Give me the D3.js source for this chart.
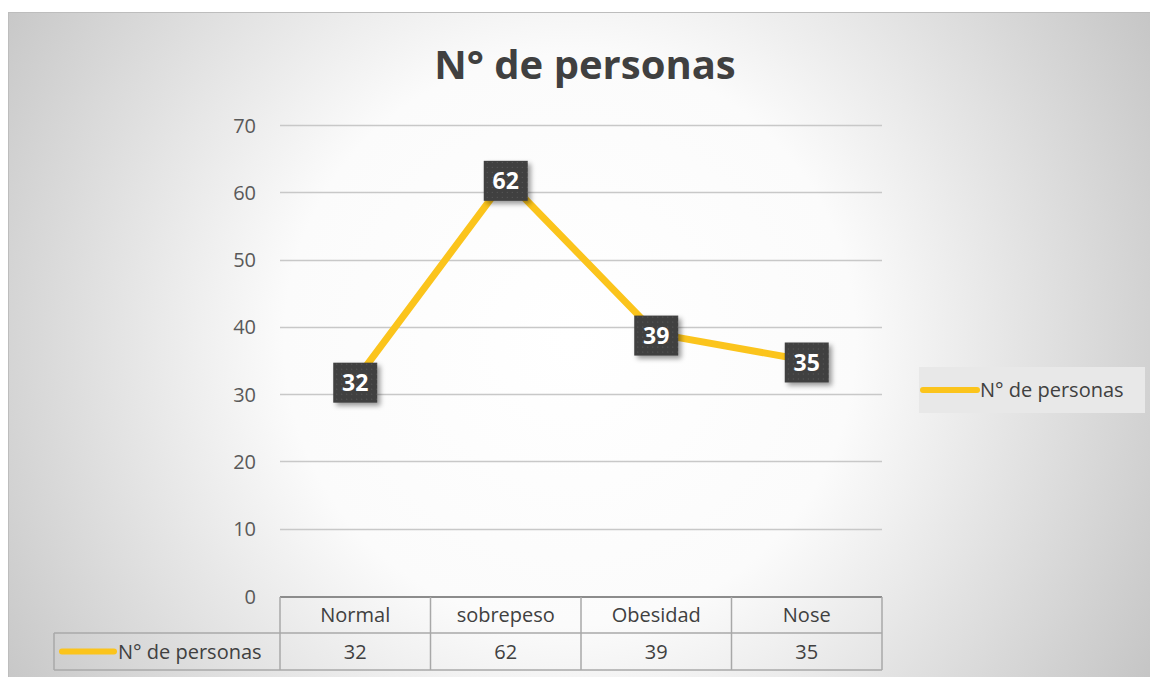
<!DOCTYPE html>
<html>
<head>
<meta charset="utf-8">
<script src="https://cdn.jsdelivr.net/npm/d3@7"></script>
<style>
  html, body { margin: 0; padding: 0; background: #fff; }
  svg { display: block; font-family: "Open Sans", sans-serif; }
</style>
</head>
<body>
<svg></svg>
<script>
"use strict";

const categories = ["Normal", "sobrepeso", "Obesidad", "Nose"];
const values = [32, 62, 39, 35];
const yTicks = [0, 10, 20, 30, 40, 50, 60, 70];
const seriesName = "N° de personas";

const width = 1150;
const height = 677;
const plot = { left: 280, right: 882, top: 125, bottom: 596 };

const svg = d3.select("svg").attr("width", width).attr("height", height);
const defs = svg.append("defs");

const grad = defs.append("radialGradient")
  .attr("id", "bg")
  .attr("gradientUnits", "userSpaceOnUse")
  .attr("cx", 570).attr("cy", 340).attr("r", 680);
grad.append("stop").attr("offset", 0).attr("stop-color", "#ffffff");
grad.append("stop").attr("offset", 0.42).attr("stop-color", "#fbfbfb");
grad.append("stop").attr("offset", 1).attr("stop-color", "#c4c4c4");

const pat = defs.append("pattern")
  .attr("id", "dots")
  .attr("patternUnits", "userSpaceOnUse")
  .attr("width", 5).attr("height", 5);
pat.append("rect").attr("width", 5).attr("height", 5).attr("fill", "#3f3f3f");
pat.append("rect").attr("x", 1).attr("y", 1).attr("width", 1).attr("height", 1).attr("fill", "#5e5e5e");

const shadow = defs.append("filter").attr("id", "shadow")
  .attr("x", "-30%").attr("y", "-30%").attr("width", "170%").attr("height", "170%");
shadow.append("feDropShadow")
  .attr("dx", 3).attr("dy", 3).attr("stdDeviation", 2.5)
  .attr("flood-color", "#000").attr("flood-opacity", 0.4);

// chart background
svg.append("rect")
  .attr("x", 8.5).attr("y", 12.5)
  .attr("width", width - 8).attr("height", height - 12)
  .attr("fill", "url(#bg)")
  .attr("stroke", "#bdbdbd");

// title
svg.append("text")
  .attr("x", 585).attr("y", 79)
  .attr("text-anchor", "middle")
  .attr("font-size", 40).attr("font-weight", "bold")
  .attr("fill", "#404040")
  .text(seriesName);

const xScale = d3.scaleBand().domain(categories).range([plot.left, plot.right]);
const yScale = d3.scaleLinear().domain([0, 70]).range([plot.bottom, plot.top]);

// y labels via axis
const yAxis = d3.axisLeft(yScale).tickValues(yTicks).tickSize(0).tickPadding(0);
const gy = svg.append("g").attr("transform", `translate(${plot.left - 24},0)`).call(yAxis);
gy.select(".domain").remove();
gy.selectAll("text")
  .attr("font-size", 20).attr("fill", "#595959")
  .attr("font-family", "Open Sans, sans-serif")
  .attr("dy", "0.35em");

// gridlines
svg.append("g")
  .selectAll("line")
  .data(yTicks.filter(d => d > 0))
  .join("line")
  .attr("x1", plot.left).attr("x2", plot.right)
  .attr("y1", d => Math.round(yScale(d)) + 0.5)
  .attr("y2", d => Math.round(yScale(d)) + 0.5)
  .attr("stroke", "#c8c8c8").attr("stroke-width", 1.3);

// line
const cx = d => xScale(d) + xScale.bandwidth() / 2;
const line = d3.line().x((d, i) => cx(categories[i])).y(d => yScale(d));
svg.append("path")
  .datum(values)
  .attr("d", line)
  .attr("fill", "none")
  .attr("stroke", "#fbc41c")
  .attr("stroke-width", 7)
  .attr("stroke-linejoin", "round");

// data labels
const labels = svg.append("g").selectAll("g")
  .data(values)
  .join("g")
  .attr("transform", (d, i) => `translate(${cx(categories[i])},${yScale(d) + 2})`);
labels.append("rect")
  .attr("x", -22).attr("y", -20).attr("width", 44).attr("height", 40)
  .attr("fill", "url(#dots)")
  .attr("filter", "url(#shadow)");
labels.append("text")
  .attr("text-anchor", "middle")
  .attr("dy", "0.36em")
  .attr("font-size", 23).attr("font-weight", "bold")
  .attr("fill", "#ffffff")
  .text(d => d);

// data table
const rowTop = 597, rowMid = 633, rowBot = 670, tableLeft = 54;
const tbl = svg.append("g").attr("stroke", "#a8a8a8").attr("stroke-width", 1.5).attr("fill", "none");
tbl.append("line").attr("x1", plot.left).attr("x2", plot.right).attr("y1", rowTop).attr("y2", rowTop).attr("stroke", "#8c8c8c").attr("stroke-width", 2);
tbl.append("line").attr("x1", tableLeft).attr("x2", plot.right).attr("y1", rowMid).attr("y2", rowMid);
tbl.append("line").attr("x1", tableLeft).attr("x2", plot.right).attr("y1", rowBot).attr("y2", rowBot);
tbl.append("line").attr("x1", tableLeft).attr("x2", tableLeft).attr("y1", rowMid).attr("y2", rowBot);
tbl.selectAll(".v")
  .data(categories.map(c => xScale(c)).concat([plot.right]))
  .join("line")
  .attr("x1", d => d).attr("x2", d => d)
  .attr("y1", rowTop).attr("y2", rowBot);

svg.append("g").selectAll("text")
  .data(categories)
  .join("text")
  .attr("x", d => cx(d)).attr("y", (rowTop + rowMid) / 2)
  .attr("dy", "0.36em").attr("text-anchor", "middle")
  .attr("font-size", 20).attr("fill", "#404040")
  .text(d => d);

svg.append("g").selectAll("text")
  .data(values)
  .join("text")
  .attr("x", (d, i) => cx(categories[i])).attr("y", (rowMid + rowBot) / 2)
  .attr("dy", "0.36em").attr("text-anchor", "middle")
  .attr("font-size", 20).attr("fill", "#404040")
  .text(d => d);

svg.append("line")
  .attr("x1", 62).attr("x2", 114)
  .attr("y1", (rowMid + rowBot) / 2).attr("y2", (rowMid + rowBot) / 2)
  .attr("stroke", "#fbc41c").attr("stroke-width", 6).attr("stroke-linecap", "round");
svg.append("text")
  .attr("x", 118).attr("y", (rowMid + rowBot) / 2)
  .attr("dy", "0.36em")
  .attr("font-size", 20).attr("fill", "#404040")
  .text(seriesName);

// legend
const lg = svg.append("g").attr("transform", "translate(919,367)");
lg.append("rect").attr("width", 226).attr("height", 46).attr("fill", "#e8e8e8");
lg.append("line")
  .attr("x1", 4).attr("x2", 58).attr("y1", 23).attr("y2", 23)
  .attr("stroke", "#fbc41c").attr("stroke-width", 6).attr("stroke-linecap", "round");
lg.append("text")
  .attr("x", 61).attr("y", 23).attr("dy", "0.36em")
  .attr("font-size", 20).attr("fill", "#404040")
  .text(seriesName);
</script>
</body>
</html>
